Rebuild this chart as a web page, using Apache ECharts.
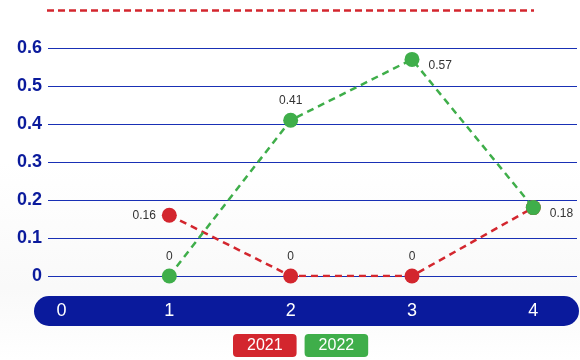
<!DOCTYPE html>
<html>
<head>
<meta charset="utf-8">
<script src="https://cdn.jsdelivr.net/npm/echarts@6/dist/echarts.min.js"></script>
<style>
  html, body { margin: 0; padding: 0; background: #ffffff; }
  #chart { width: 580px; height: 360px; }
</style>
</head>
<body>
<div id="chart"></div>
<script>
// x positions of the points and the two yearly series
const xValues = [1, 2, 3, 4];
const values2021 = [0.16, 0, 0, 0.18];
const values2022 = [0, 0.41, 0.57, 0.18];
const seriesNames = ['2021', '2022'];
const yTicks = [0, 0.1, 0.2, 0.3, 0.4, 0.5, 0.6];

// label placement for each point
const pos2021 = ['left', 'top', 'top', 'right'];
const pos2022 = ['top', 'top', 'right', 'right'];

const RED = '#d3262e';
const GREEN = '#3fae4a';
const NAVY = '#0a1a9c';
const FONT = '"Liberation Sans", Arial, Helvetica, sans-serif';

function buildData(vals, positions, hideIdx) {
  return vals.map((v, i) => ({
    value: [xValues[i], v],
    label: {
      show: hideIdx.indexOf(i) < 0,
      position: positions[i],
      distance: positions[i] === 'right' ? 9 : 6,
      offset: positions[i] === 'right' ? [0, 6] : [0, 0]
    }
  }));
}

function lineSeries(name, color, data, z) {
  return {
    name: name,
    type: 'line',
    data: data,
    z: z,
    symbol: 'circle',
    symbolSize: 15,
    itemStyle: { color: color },
    lineStyle: { color: color, width: 2.5, type: [7, 5] },
    label: {
      show: true,
      color: '#333333',
      fontSize: 12,
      fontFamily: FONT,
      formatter: p => String(p.value[1])
    },
    emphasis: { disabled: true }
  };
}

const chart = echarts.init(document.getElementById('chart'), null, { renderer: 'canvas' });

chart.setOption({
  backgroundColor: {
    type: 'linear', x: 0, y: 0, x2: 0, y2: 1,
    colorStops: [
      { offset: 0, color: '#ffffff' },
      { offset: 0.45, color: '#ffffff' },
      { offset: 0.8, color: '#f9f9f9' },
      { offset: 1, color: '#ffffff' }
    ]
  },
  animation: false,
  grid: { left: 48, right: 0, top: 48, bottom: 84, containLabel: false },
  graphic: [
    {
      type: 'line',
      z: -5,
      shape: { x1: 47, y1: 10.5, x2: 534, y2: 10.5 },
      style: { stroke: RED, lineWidth: 2.5, lineDash: [7, 4] }
    },
    {
      type: 'rect',
      z: -5,
      shape: { x: 34, y: 296, width: 545, height: 30, r: 15 },
      style: { fill: NAVY }
    }
  ],
  legend: {
    bottom: 3,
    left: 228,
    padding: 0,
    itemWidth: 0,
    itemHeight: 0,
    itemGap: 3,
    icon: 'rect',
    selectedMode: false,
    data: [
      { name: seriesNames[0], textStyle: { backgroundColor: RED, color: '#fff', borderRadius: 4, padding: [4, 14, 3, 14], fontSize: 16, fontFamily: FONT } },
      { name: seriesNames[1], textStyle: { backgroundColor: GREEN, color: '#fff', borderRadius: 4, padding: [4, 14, 3, 14], fontSize: 16, fontFamily: FONT } }
    ]
  },
  xAxis: {
    type: 'value',
    min: 0,
    max: 4.36,
    interval: 1,
    axisLine: { show: false },
    axisTick: { show: false },
    splitLine: { show: false },
    axisLabel: {
      color: '#ffffff',
      fontSize: 18,
      margin: 26,
      fontFamily: FONT,
      formatter: v => (Number.isInteger(v) ? (v === 0 ? '{z|0}' : String(v)) : ''),
      rich: { z: { color: '#ffffff', fontSize: 18, padding: [0, 0, 0, 27], fontFamily: FONT } }
    }
  },
  yAxis: {
    type: 'value',
    min: yTicks[0],
    max: yTicks[yTicks.length - 1],
    interval: 0.1,
    axisLine: { show: false },
    axisTick: { show: false },
    splitLine: { show: true, lineStyle: { color: '#1930b5', width: 1.2 } },
    axisLabel: {
      color: NAVY,
      fontSize: 18,
      fontWeight: 'bold',
      margin: 6,
      fontFamily: FONT,
      formatter: v => String(Math.round(v * 10) / 10)
    }
  },
  series: [
    lineSeries(seriesNames[0], RED, buildData(values2021, pos2021, [3]), 2),
    lineSeries(seriesNames[1], GREEN, buildData(values2022, pos2022, []), 3)
  ]
});
</script>
</body>
</html>
